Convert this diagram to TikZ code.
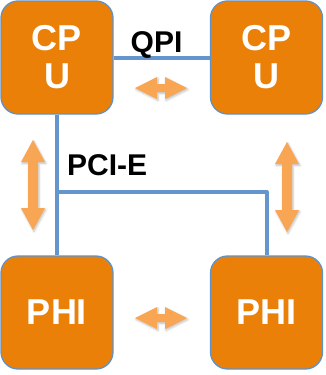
\documentclass[tikz,border=0pt]{standalone}
\usepackage{fontspec}
\setmainfont{Liberation Sans}
\usetikzlibrary{shadows.blur}
\definecolor{chipfill}{RGB}{234,128,8}
\definecolor{chipedge}{RGB}{96,146,202}
\definecolor{busblue}{RGB}{100,150,205}
\definecolor{flow}{RGB}{248,166,84}
\tikzset{
  chip/.style={draw=chipedge, line width=1.3pt, fill=chipfill, rounded corners=17pt,
    minimum width=112pt, minimum height=113pt, text=white, align=center,
    font=\fontsize{36}{38}\selectfont\bfseries, inner sep=0pt},
  bus/.style={draw=busblue, line width=4pt},
  buslabel/.style={font=\fontsize{30}{30}\selectfont\bfseries, inner sep=0pt},
  flowfill/.style={fill=flow, draw=none,
    blur shadow={shadow xshift=1pt, shadow yshift=-1.5pt, shadow blur steps=5, shadow opacity=25}},
  % long vertical two-headed arrow
  vflow/.pic={
    \path[flowfill] (0,45) -- (12,23) -- (5,23) -- (5,-23) -- (12,-23) -- (0,-45)
      -- (-12,-23) -- (-5,-23) -- (-5,23) -- (-12,23) -- cycle;
  },
  % short horizontal two-headed arrow
  hflow/.pic={
    \path[flowfill] (-26,0) -- (-4,11) -- (-4,4) -- (4,4) -- (4,11) -- (26,0)
      -- (4,-11) -- (4,-4) -- (-4,-4) -- (-4,-11) -- cycle;
  }
}
\begin{document}
\begin{tikzpicture}[x=1pt,y=1pt]
  \useasboundingbox (0,0) rectangle (326,-375);
  % the four packages
  \node[chip] (cpuA) at (57,-57.5) {CP\\U};
  \node[chip] (cpuB) at (266.5,-57.5) {CP\\U};
  \node[chip] (phiA) at (57,-312.5) {PHI};
  \node[chip] (phiB) at (266.5,-312.5) {PHI};
  % buses
  \draw[bus] (cpuA.east) -- (cpuB.west);
  \draw[bus] (cpuA.south) -- (phiA.north);
  \coordinate (tap) at (57,-192);
  \draw[bus, line join=round] (tap) -| (phiB.north);
  % bus labels
  \node[buslabel, anchor=base] (qpi) at (156.5,-52) {QPI};
  \node[buslabel, anchor=base west] (pcie) at (67,-175) {PCI-E};
  % data flow arrows
  \pic at (161,-88) {hflow};
  \pic at (161,-318) {hflow};
  \pic at (33,-185) {vflow};
  \pic at (287,-187) {vflow};
\end{tikzpicture}
\end{document}
